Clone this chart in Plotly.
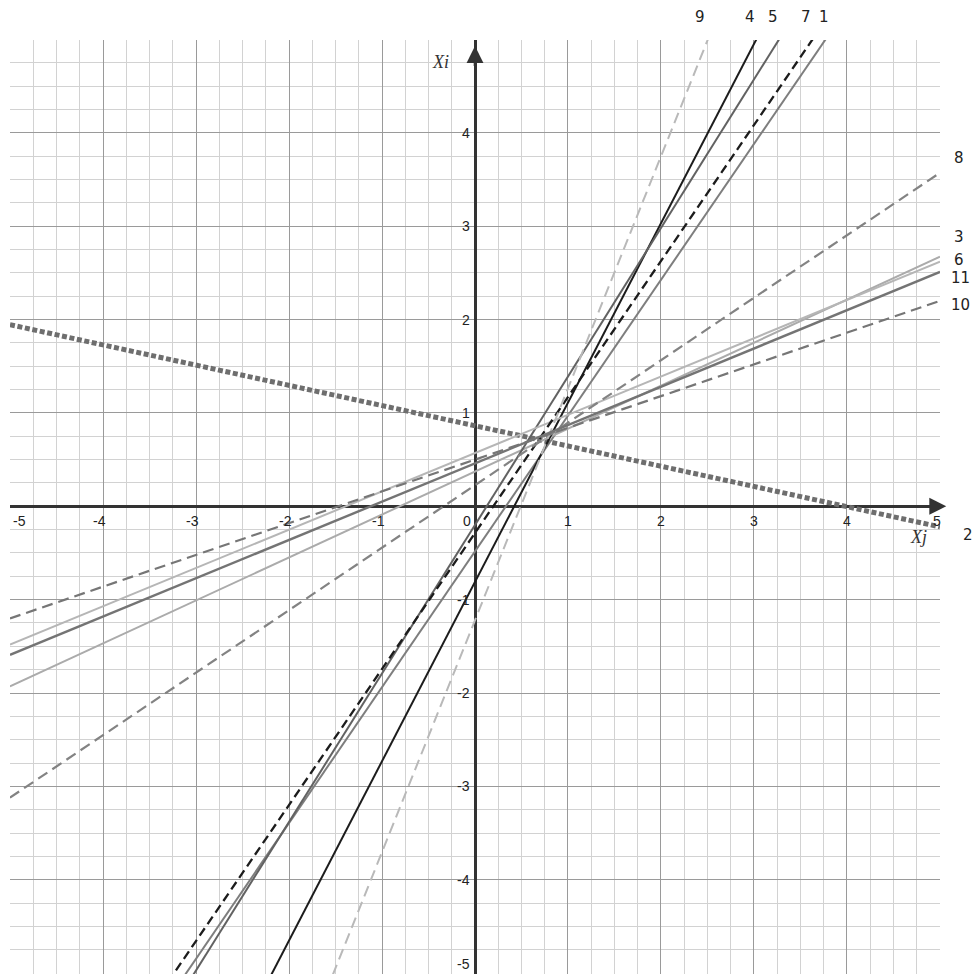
import plotly.graph_objects as go

# ---- data ----
line_names = ["1", "2", "3", "4", "5", "6", "7", "8", "9", "10", "11"]
intercepts = [-0.483, 0.8625, 0.372, -0.81, -0.20, 0.57, -0.286, 0.226, -1.22, 0.50, 0.46]
slopes     = [1.454, -0.2165, 0.46, 1.92, 1.59, 0.41, 1.456, 0.669, 2.483, 0.34, 0.41]

x_tick_values = [-5, -4, -3, -2, -1, 0, 1, 2, 3, 4, 5]
y_tick_values = [4, 3, 2, 1, -1, -2, -3, -4, -5]

top_labelled = ["9", "4", "5", "7", "1"]
right_labelled = ["8", "3", "6", "11", "10", "2"]

# ---- styles ----
styles = {
    "1":  dict(color="#7e7e7e", width=2.0, dash="solid"),
    "2":  dict(color="#6e6e6e", width=5.0, dash="5px,2.6px"),
    "3":  dict(color="#ababab", width=2.0, dash="solid"),
    "4":  dict(color="#1c1c1c", width=2.0, dash="solid"),
    "5":  dict(color="#626262", width=2.0, dash="solid"),
    "6":  dict(color="#b6b6b6", width=2.0, dash="solid"),
    "7":  dict(color="#1c1c1c", width=2.3, dash="9px,5px"),
    "8":  dict(color="#838383", width=2.2, dash="11px,6px"),
    "9":  dict(color="#b9b9b9", width=2.0, dash="11px,6px"),
    "10": dict(color="#767676", width=2.2, dash="11px,6px"),
    "11": dict(color="#747474", width=2.4, dash="solid"),
}
top_nudge = {"9": -0.085, "4": -0.06, "5": -0.06, "7": -0.07, "1": -0.01}
right_pos = {"8": (5.13, 0.16), "3": (5.13, 0.21), "6": (5.13, 0.02),
             "11": (5.10, -0.06), "10": (5.10, -0.04), "2": (5.23, -0.09)}

XR = [-5.003, 5.003]
YR = [-5.01, 4.995]


def px(xv):
    return (xv - XR[0]) / (XR[1] - XR[0])


def py(yv):
    return (yv - YR[0]) / (YR[1] - YR[0])


fig = go.Figure()
for name, b, m in zip(line_names, intercepts, slopes):
    xs = [XR[0], XR[1]]
    ys = [b + m * xv for xv in xs]
    st = styles[name]
    fig.add_trace(go.Scatter(x=xs, y=ys, mode="lines", name=name,
                             line=dict(color=st["color"], width=st["width"], dash=st["dash"]),
                             hoverinfo="skip", showlegend=False))

ann = []
tick_font = dict(family="Liberation Sans, Arial", size=14, color="#222")
for v in x_tick_values:
    shift = -4 if v < 0 else 0
    if v == -5:
        shift = 9
    if v == 0:
        shift = -8
    if v == 5:
        shift = -3
    ann.append(dict(x=px(v), y=py(0), xref="paper", yref="paper", text=str(v), showarrow=False,
                    xanchor="center", yanchor="top", yshift=-5, xshift=shift, font=tick_font))
for v in y_tick_values:
    ann.append(dict(x=px(0), y=py(v), xref="paper", yref="paper", text=str(v), showarrow=False,
                    xanchor="right", yanchor="middle", xshift=-3,
                    yshift=9 if v == -5 else 0, font=tick_font))

lab_font = dict(family="DejaVu Sans", size=15, color="#222")
for name in top_labelled:
    i = line_names.index(name)
    xe = (YR[1] - intercepts[i]) / slopes[i] + top_nudge[name]
    ann.append(dict(x=px(xe), y=py(5.24), xref="paper", yref="paper", text=name,
                    showarrow=False, xanchor="center", yanchor="middle", font=lab_font))
for name in right_labelled:
    i = line_names.index(name)
    lx, dy = right_pos[name]
    ye = intercepts[i] + slopes[i] * 5 + dy
    ann.append(dict(x=px(lx), y=py(ye), xref="paper", yref="paper", text=name,
                    showarrow=False, xanchor="left", yanchor="middle", font=lab_font))

title_font = dict(family="Liberation Serif, Times New Roman", size=18, color="#333")
ann.append(dict(x=px(-0.37), y=py(4.76), xref="paper", yref="paper", text="<i>Xi</i>",
                showarrow=False, xanchor="center", yanchor="middle", font=title_font))
ann.append(dict(x=px(4.77), y=py(-0.33), xref="paper", yref="paper", text="<i>Xj</i>",
                showarrow=False, xanchor="center", yanchor="middle", font=title_font))

# axis arrows
ann.append(dict(x=5.07, y=0, ax=4.8, ay=0, xref="x", yref="y", axref="x", ayref="y",
                text="", showarrow=True, arrowhead=2, arrowsize=1.3, arrowwidth=2.6,
                arrowcolor="#333"))
ann.append(dict(x=0, y=4.93, ax=0, ay=4.7, xref="x", yref="y", axref="x", ayref="y",
                text="", showarrow=True, arrowhead=2, arrowsize=1.3, arrowwidth=2.6,
                arrowcolor="#333"))

fig.update_layout(
    width=972, height=974,
    margin=dict(l=10, r=32, t=40, b=0),
    paper_bgcolor="white", plot_bgcolor="white",
    annotations=ann,
    xaxis=dict(range=XR, dtick=1, tick0=0, showgrid=True, gridcolor="#9a9a9a", gridwidth=1,
               minor=dict(dtick=0.25, tick0=0, showgrid=True, gridcolor="#d2d2d2", gridwidth=1),
               zeroline=True, zerolinecolor="#333", zerolinewidth=2.6,
               showticklabels=False, ticks="", showline=False, fixedrange=True),
    yaxis=dict(range=YR, dtick=1, tick0=0, showgrid=True, gridcolor="#9a9a9a", gridwidth=1,
               minor=dict(dtick=0.25, tick0=0, showgrid=True, gridcolor="#d2d2d2", gridwidth=1),
               zeroline=True, zerolinecolor="#333", zerolinewidth=2.6,
               showticklabels=False, ticks="", showline=False, fixedrange=True),
)

fig.write_html(
    "out.html",
    config={"displayModeBar": False},
    post_script="document.body.style.margin='0';"
                "document.documentElement.style.overflow='hidden';"
                "document.body.style.overflow='hidden';",
)
